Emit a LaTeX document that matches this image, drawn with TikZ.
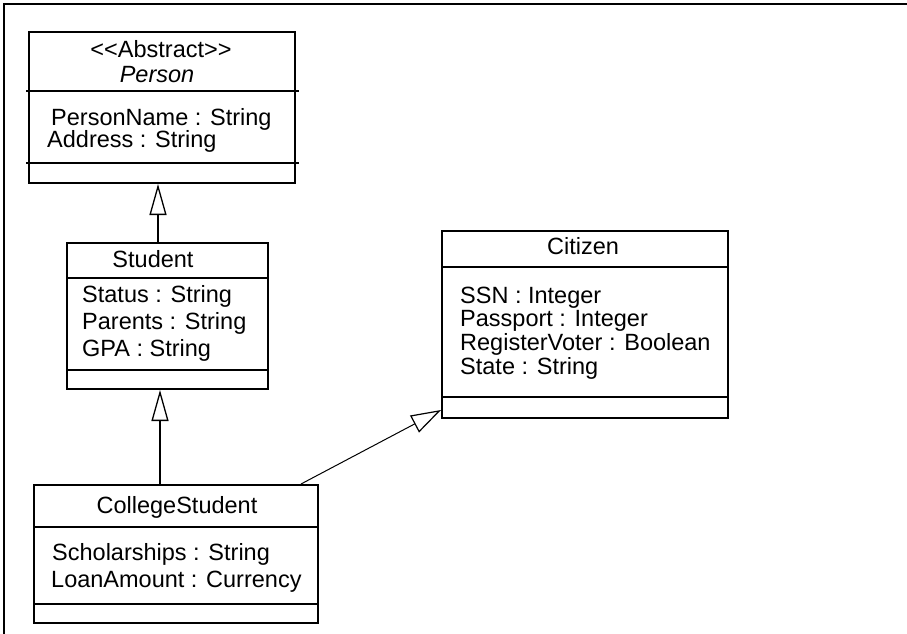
\documentclass[tikz,border=0pt]{standalone}
\usepackage{fontspec}
\setmainfont{Liberation Sans}
\usetikzlibrary{arrows.meta,calc}
\tikzset{
  umlbox/.style={draw, line width=2pt, rectangle, inner sep=0pt, anchor=north west},
  divider/.style={line width=2pt},
  txt/.style={inner sep=0pt, font=\fontsize{23.5}{23.7}\selectfont},
  gen/.style={line width=2pt, -{Triangle[open, length=31pt, width=17pt, line width=1.3pt, fill=white]}},
  genthin/.style={line width=1pt, -{Triangle[open, length=30pt, width=19pt, line width=1.2pt, fill=white]}},
  framel/.style={line width=2pt}
}
\begin{document}
\begin{tikzpicture}[x=1pt,y=-1pt]
\useasboundingbox (0,0) rectangle (907,634);
% frame
\draw[framel] (4,634) -- (4,4) -- (907,4);

% Person
\node[umlbox, minimum width=266pt, minimum height=151pt] (person) at (28,31) {};
\draw[divider] ($(person.north west)+(-2,60)$) -- ($(person.north east)+(3,60)$);
\draw[divider] ($(person.north west)+(-2,132)$) -- ($(person.north east)+(3,132)$);
\node[txt, anchor=base] (pabs) at (161,57) {<\kern0pt<Abstract>\kern0pt>};
\node[txt, anchor=base] (pname) at (157,82) {\itshape Person};
\node[txt, anchor=base west] (pa1) at (51,125) {PersonName : String};
\node[txt, anchor=base west] (pa2) at (47,147) {Address : String};

% Student
\node[umlbox, minimum width=201pt, minimum height=146pt] (student) at (66,242) {};
\draw[divider] ($(student.north west)+(0,36)$) -- ($(student.north east)+(0,36)$);
\draw[divider] ($(student.north west)+(0,128)$) -- ($(student.north east)+(0,128)$);
\node[txt, anchor=base] (sname) at (153,267) {Student};
\node[txt, anchor=base west] (sa1) at (82,302) {Status : String};
\node[txt, anchor=base west] (sa2) at (82,329) {Parents : String};
\node[txt, anchor=base west] (sa3) at (82,356) {GPA : String};

% Citizen
\node[umlbox, minimum width=286pt, minimum height=187pt] (citizen) at (441,230) {};
\draw[divider] ($(citizen.north west)+(0,37)$) -- ($(citizen.north east)+(0,37)$);
\draw[divider] ($(citizen.north west)+(0,167)$) -- ($(citizen.north east)+(0,167)$);
\node[txt, anchor=base] (cname) at (583,254) {Citizen};
\node[txt, anchor=base west] (ca1) at (460,303) {SSN : Integer};
\node[txt, anchor=base west] (ca2) at (460,326) {Passport : Integer};
\node[txt, anchor=base west] (ca3) at (460,350) {RegisterVoter : Boolean};
\node[txt, anchor=base west] (ca4) at (460,374) {State : String};

% CollegeStudent
\node[umlbox, minimum width=284pt, minimum height=138pt] (college) at (33,484) {};
\draw[divider] ($(college.north west)+(0,43)$) -- ($(college.north east)+(0,43)$);
\draw[divider] ($(college.north west)+(0,120)$) -- ($(college.north east)+(0,120)$);
\node[txt, anchor=base] (csname) at (177,513) {CollegeStudent};
\node[txt, anchor=base west] (csa1) at (52,560) {Scholarships : String};
\node[txt, anchor=base west] (csa2) at (51,587) {LoanAmount : Currency};

% connectors
\coordinate (ax1) at (158,0);
\coordinate (ax2) at (160,0);
\draw[gen] (student.north -| ax1) -- (person.south -| ax1);
\draw[gen] (college.north -| ax2) -- (student.south -| ax2);
\draw[genthin] ($(college.north east)+(-18,0)$) -- ($(citizen.south west)+(0,-9)$);
\end{tikzpicture}
\end{document}
